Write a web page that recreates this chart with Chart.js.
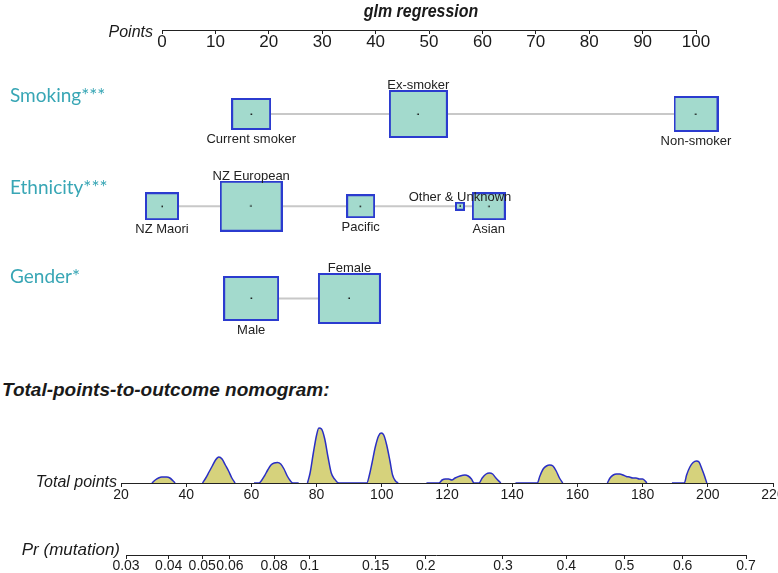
<!DOCTYPE html>
<html>
<head>
<meta charset="utf-8">
<script src="https://cdn.jsdelivr.net/npm/chart.js@4.4.1/dist/chart.umd.min.js"></script>
<style>
  html, body { margin: 0; padding: 0; background: #fff; }
  #wrap { position: relative; width: 778px; height: 573px; overflow: hidden; font-family: 'Liberation Sans', Arial, sans-serif; }
  #wrap canvas { position: absolute; left: 0; }
  .txt { position: absolute; white-space: nowrap; line-height: 1; color: #1a1a1a; }
  .var { font-family: Lato, sans-serif; font-size: 19px; color: rgb(56,166,181); left: 10px; }
</style>
</head>
<body>
<div id="wrap">
  <canvas id="ptsAxis" width="778" height="60" style="top:0"></canvas>
  <canvas id="rows" width="778" height="290" style="top:60px"></canvas>
  <canvas id="dens" width="778" height="90" style="top:420px"></canvas>
  <canvas id="prAxis" width="778" height="73" style="top:500px"></canvas>

  <div class="txt" style="left:421px;top:1px;transform:translateX(-50%) scaleX(0.84);font-size:19px;font-weight:bold;font-style:italic">glm regression</div>
  <div class="txt" style="right:625px;top:24px;font-size:16px;font-style:italic">Points</div>
  <div class="txt var" style="top:85px">Smoking***</div>
  <div class="txt var" style="top:177px">Ethnicity***</div>
  <div class="txt var" style="top:266px">Gender*</div>
  <div class="txt" style="left:2px;top:380px;font-size:19px;font-weight:bold;font-style:italic">Total-points-to-outcome nomogram:</div>
  <div class="txt" style="right:661px;top:474px;font-size:16px;font-style:italic">Total points</div>
  <div class="txt" style="right:658px;top:541px;font-size:17px;font-style:italic">Pr (mutation)</div>
</div>

<script>
// axis ticks
const pointTicks = [0, 10, 20, 30, 40, 50, 60, 70, 80, 90, 100];
const totalTicks = [20, 40, 60, 80, 100, 120, 140, 160, 180, 200, 220];
const prTicks = [0.03, 0.04, 0.05, 0.06, 0.08, 0.1, 0.15, 0.2, 0.3, 0.4, 0.5, 0.6, 0.7];

// variables (points per level, share of sample -> box area)
const rowNames = ['Smoking', 'Ethnicity', 'Gender'];

const smokingLevels = ['Current smoker', 'Ex-smoker', 'Non-smoker'];
const smokingPoints = [16.7, 48, 100];
const smokingShare = [0.22, 0.50, 0.28];

const ethnicityLevels = ['NZ Maori', 'NZ European', 'Pacific', 'Other & Unknown', 'Asian'];
const ethnicityPoints = [0, 16.7, 37.2, 55.8, 61.2];
const ethnicityShare = [0.155, 0.566, 0.111, 0.011, 0.157];

const genderLevels = ['Male', 'Female'];
const genderPoints = [16.7, 35.1];
const genderShare = [0.44, 0.56];

// distribution of total points (null = break)
const totalX = [
  29.5, 30.5, 31.5, 32.5, 34, 35, 36, 36.6, 40,
  45, 46, 47, 48, 49, 50, 51, 52, 53, 54, 55, 57,
  60.8, 62.3, 63, 64, 65, 66, 67, 68, 69, 70, 71, 72, 72.7, 74.5, 76,
  77.2, 78, 79, 80, 80.7, 81.5, 82.5, 83.5, 84.5, 85.5, 86.8, 95.4,
  96.2, 97, 98, 99, 99.8, 100.6, 101.5, 102.5, 103.3, 104.2, 105, 110,
  113.7, 117.5, 118.5, 119.5, 120.5, 121.5, 122.5, 124, 125.5, 126.5, 127.5, 128.3,
  129.8, 130.8, 132, 133, 134, 135, 136.5, 139,
  141, 147.7, 148.5, 149.5, 150.5, 151.5, 152.5, 153.5, 154.5, 155.5, 160,
  169.2, 170, 171, 172, 173, 174, 175, 176, 177, 178, 179, 180, 180.8, 181.3, 185,
  189, 192.8, 193.5, 194.5, 195.5, 196.5, 197.3, 198.2, 199, 199.7
];
const totalDensity = [
  0, 3, 5, 6, 6, 5, 2, 0, null,
  0, 5, 11, 17, 23, 26, 24, 18, 12, 5, 0, null,
  0, 0, 2, 7, 13, 18, 20, 20.5, 19, 14, 7, 2, 0, 0, null,
  0, 10, 30, 48, 55, 54, 44, 26, 10, 4, 0, 0,
  8, 20, 36, 47, 50, 48, 38, 22, 8, 2, 0, null,
  0, 0, 3, 4, 4, 3, 5, 7, 8, 7, 4, 0,
  0, 5, 9, 10, 9, 5, 0, null,
  0, 0, 7, 14, 17, 18, 17, 12, 5, 0, null,
  0, 5, 8, 9, 9, 8, 6.5, 6, 5, 5, 4, 4, 2, 0, null,
  0, 0, 8, 16, 20.5, 22, 21, 14, 7, 0
];

Chart.defaults.animation = false;
Chart.defaults.events = [];
Chart.defaults.font.family = "'Liberation Sans', Arial, sans-serif";

const logit = p => Math.log(p / (1 - p));

function flatAxis(ticksArr, height, font, pad) {
  return {
    type: 'linear',
    position: 'bottom',
    afterBuildTicks: s => { s.ticks = ticksArr.map(v => ({ value: v })); },
    afterFit: s => { s.height = height; s.paddingLeft = 0; s.paddingRight = 0; },
    grid: { drawOnChartArea: false, drawTicks: true, tickLength: 4, color: '#222' },
    border: { display: true, color: '#222', width: 1 },
    ticks: { color: '#1a1a1a', font: { size: font }, padding: pad, autoSkip: false, maxRotation: 0, minRotation: 0 }
  };
}

// Points axis
new Chart(document.getElementById('ptsAxis'), {
  type: 'scatter',
  data: { datasets: [] },
  options: {
    responsive: false,
    layout: { padding: { left: 162, right: 82, top: 29, bottom: 0 } },
    plugins: { legend: { display: false }, tooltip: { enabled: false } },
    scales: {
      x: Object.assign(flatAxis(pointTicks, 30, 17, -2), { min: 0, max: 100 }),
      y: { display: false }
    }
  }
});

// level boxes
function boxStyle(share) {
  const w = Math.round(81 * Math.sqrt(share));
  const h = Math.round(65 * Math.sqrt(share));
  const c = document.createElement('canvas');
  c.width = w + 2;
  c.height = h + 2;
  const g = c.getContext('2d');
  g.fillStyle = '#a3dacd';
  g.fillRect(1, 1, w, h);
  g.strokeStyle = '#2b3bcf';
  g.lineWidth = 2;
  g.strokeRect(1, 1, w, h);
  g.fillStyle = '#111';
  g.fillRect(Math.floor(c.width / 2) - 0.5, Math.floor(c.height / 2) - 0.5, 1.5, 1.5);
  return c;
}

const rowData = [
  [smokingLevels, smokingPoints, smokingShare],
  [ethnicityLevels, ethnicityPoints, ethnicityShare],
  [genderLevels, genderPoints, genderShare]
];
const rowBoxes = rowData.map(r => r[2].map(boxStyle));

const levelLabels = {
  id: 'levelLabels',
  afterDatasetsDraw(chart) {
    const ctx = chart.ctx;
    ctx.save();
    ctx.font = '13px "Liberation Sans", Arial, sans-serif';
    ctx.fillStyle = '#222';
    ctx.textAlign = 'center';
    ctx.textBaseline = 'alphabetic';
    chart.data.datasets.forEach((ds, i) => {
      chart.getDatasetMeta(i).data.forEach((pt, j) => {
        const half = rowBoxes[i][j].height / 2;
        const y = j % 2 ? pt.y - half - 1 : pt.y + half + 13;
        ctx.fillText(rowData[i][0][j], pt.x, y);
      });
    });
    ctx.restore();
  }
};

new Chart(document.getElementById('rows'), {
  type: 'line',
  data: {
    datasets: rowData.map((r, i) => ({
      data: r[1].map(p => ({ x: p, y: rowNames[i] })),
      borderColor: '#c8c8c8',
      borderWidth: 2,
      tension: 0,
      pointRadius: 5,
      pointStyle: rowBoxes[i],
      clip: false
    }))
  },
  options: {
    responsive: false,
    layout: { padding: { left: 162, right: 82, top: 54, bottom: 51.5 } },
    plugins: { legend: { display: false }, tooltip: { enabled: false } },
    scales: {
      x: { type: 'linear', min: 0, max: 100, display: false },
      y: { type: 'category', labels: rowNames, offset: false, display: false }
    }
  },
  plugins: [levelLabels]
});

// total points distribution + axis
new Chart(document.getElementById('dens'), {
  type: 'line',
  data: {
    datasets: [{
      data: totalX.map((x, i) => ({ x: x, y: totalDensity[i] })),
      borderColor: '#2a2fc4',
      borderWidth: 1.5,
      backgroundColor: '#d6d27c',
      fill: 'origin',
      pointRadius: 0,
      cubicInterpolationMode: 'monotone',
      spanGaps: false
    }]
  },
  options: {
    responsive: false,
    layout: { padding: { left: 121, right: 5, top: 3, bottom: 0 } },
    plugins: { legend: { display: false }, tooltip: { enabled: false } },
    scales: {
      x: Object.assign(flatAxis(totalTicks, 27, 14, 0), { min: 20, max: 220 }),
      y: { min: 0, max: 60, display: false }
    }
  }
});

// probability axis (logit spacing)
const prAxis = flatAxis(prTicks.map(logit), 18, 14, -1.5);
prAxis.min = logit(0.03);
prAxis.max = logit(0.7);
prAxis.ticks.callback = (v, i) => String(prTicks[i]);
new Chart(document.getElementById('prAxis'), {
  type: 'scatter',
  data: { datasets: [] },
  options: {
    responsive: false,
    layout: { padding: { left: 126, right: 32, top: 50, bottom: 0 } },
    plugins: { legend: { display: false }, tooltip: { enabled: false } },
    scales: { x: prAxis, y: { display: false } }
  }
});
</script>
</body>
</html>
